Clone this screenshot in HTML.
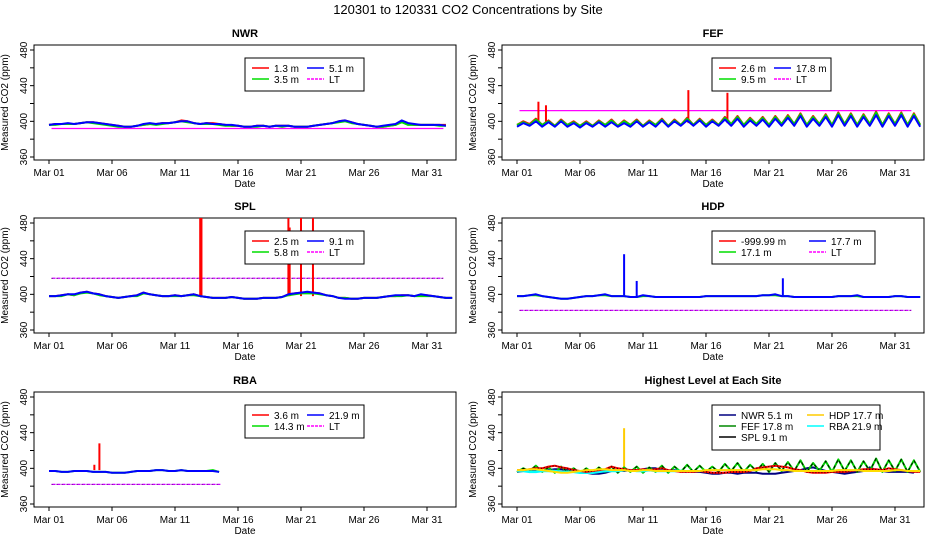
<!DOCTYPE html>
<html><head><meta charset="utf-8"><style>
body{margin:0;background:#fff}
svg{display:block;font-family:"Liberation Sans",Arial,sans-serif}
</style></head><body>
<svg id="c" width="936" height="540" viewBox="0 0 936 540">
<text x="468" y="14" text-anchor="middle" font-size="13">120301  to  120331 CO2 Concentrations by Site</text>
</svg>
<script>
// ---- data (day offset from Mar 01; half-day samples) ----
const dateTicks = ["Mar 01","Mar 06","Mar 11","Mar 16","Mar 21","Mar 26","Mar 31"];
const tickDays = [0,5,10,15,20,25,30];
const yTicks = [360,380,400,420,440,460,480];
const yLabels = [360,400,440,480];

const nwrA = [396,397,397,397,397,398,399,399,398,397,396,395,394,394,395,396,397,397,398,398,399,401,400,398,397,398,398,397,396,395,395,394,394,395,395,394,395,395,395,394,394,394,395,396,397,398,400,401,399,397,396,395,394,394,395,396,400,397,396,396,396,396,396,396];
const nwrB = [396,396,397,397,397,398,399,398,397,396,395,394,394,394,395,396,397,396,397,398,399,400,399,398,397,397,397,396,395,395,395,394,394,394,395,394,395,394,395,394,394,394,395,396,397,398,399,400,398,397,396,395,394,394,395,396,399,396,396,396,396,396,395,395];
const nwrC = [396,397,397,398,397,398,399,399,398,397,396,395,394,394,395,397,398,397,398,398,399,400,400,398,397,398,397,397,396,396,395,394,394,395,395,394,395,395,395,394,394,394,395,396,397,398,400,401,399,397,396,395,394,395,396,397,401,398,397,396,396,396,396,395];
const nwrLT = [392,392];

const fefA = [396,400,397,403,396,401,395,402,396,400,395,400,395,401,396,402,395,401,396,402,395,401,396,403,395,402,396,404,396,403,396,402,396,405,397,406,396,404,397,405,396,406,397,407,397,409,396,406,397,408,396,410,397,409,396,408,397,411,396,409,397,410,396,409,396];
const fefB = [396,399,396,402,396,400,395,401,396,399,395,399,395,400,396,401,395,400,396,401,395,400,396,402,395,401,396,403,396,402,396,401,396,404,397,405,396,403,397,404,396,405,397,406,397,408,396,405,397,407,396,409,397,408,396,407,397,410,396,408,397,409,396,408,396];
const fefC = [394,398,395,400,394,399,394,400,394,398,393,398,394,399,394,399,394,398,394,400,394,399,394,401,394,400,395,401,395,401,394,400,395,402,395,403,394,401,395,402,394,403,395,404,395,406,394,403,395,405,394,407,395,406,394,405,395,407,394,406,395,407,394,406,394];
const fefLT = [412,412];
const fefSpikeDays = [1.7,2.3,13.6,16.7];
const fefSpikeVals = [422,418,435,432];

const splA = [398,398,399,400,399,402,403,401,400,398,397,396,397,398,399,402,400,399,398,398,399,398,399,400,398,397,396,396,396,397,396,395,395,395,396,396,396,397,400,401,402,402,402,401,399,398,396,396,395,395,396,396,396,397,398,398,399,399,398,399,399,398,397,396,396];
const splB = [398,398,398,400,399,401,402,401,399,398,397,396,397,398,398,401,400,399,398,398,398,398,399,399,398,397,396,396,396,397,396,395,395,395,396,396,396,397,399,400,401,401,401,400,399,398,396,396,395,395,396,396,396,397,398,398,398,399,398,398,398,398,397,396,396];
const splC = [398,398,399,400,400,402,403,401,400,398,397,396,397,398,399,402,400,399,398,398,399,398,399,400,398,397,396,396,396,397,396,395,395,395,396,396,396,397,400,401,402,403,402,401,399,398,396,395,395,395,396,396,396,397,398,399,399,399,398,400,399,398,397,396,396];
const splLT = [418,418];
const splSpikeDays = [12.0,12.1,19.0,19.1,20.0,20.95];
const splSpikeVals = [490,490,490,475,490,490];

const hdpA = [398,398,399,399,398,397,396,395,395,396,397,398,398,399,399,398,398,398,397,397,398,398,397,397,397,397,397,397,397,397,398,398,398,398,398,398,398,398,398,399,399,399,398,398,397,397,397,397,397,397,397,398,398,398,398,397,397,397,397,397,398,398,397,397,397];
const hdpB = [398,398,399,400,398,397,396,395,395,396,397,398,398,399,400,398,398,398,397,397,399,398,397,397,397,397,397,397,397,397,398,398,398,398,398,398,398,398,398,399,399,400,398,398,397,397,397,397,397,397,397,398,398,398,399,397,397,397,397,397,398,398,397,397,397];
const hdpLT = [382,382];
const hdpSpikeDays = [8.5,21.1,9.5];
const hdpSpikeVals = [445,418,415];

const rbaA = [397,397,396,396,397,397,397,396,396,396,395,395,395,396,397,397,397,398,398,397,397,398,397,397,397,397,397,396];
const rbaB = [397,397,396,396,397,397,397,396,396,396,395,395,395,396,397,397,397,398,398,397,397,398,397,397,397,397,398,396];
const rbaLT = [382,382];
const rbaLTEnd = 13.3;
const rbaSpikeDays = [3.6,4.0];
const rbaSpikeVals = [404,428];

const panels = [
 {id:"nwr", title:"NWR", col:0,row:0, series:[{d:nwrA,c:"#ff0000"},{d:nwrB,c:"#00dd00"},{d:nwrC,c:"#0000ff"}], lt:nwrLT, ltc:"#ff00ff", ltDash:"", spikes:null,
  leg:[["1.3 m","#ff0000"],["5.1 m","#0000ff"],["3.5 m","#00dd00"],["LT","#ff00ff"]]},
 {id:"fef", title:"FEF", col:1,row:0, series:[{d:fefA,c:"#ff0000"},{d:fefB,c:"#00dd00"},{d:fefC,c:"#0000ff"}], lt:fefLT, ltc:"#ff00ff", ltDash:"", spikes:[fefSpikeDays,fefSpikeVals,"#ff0000"],
  leg:[["2.6 m","#ff0000"],["17.8 m","#0000ff"],["9.5 m","#00dd00"],["LT","#ff00ff"]]},
 {id:"spl", title:"SPL", col:0,row:1, series:[{d:splA,c:"#ff0000"},{d:splB,c:"#00dd00"},{d:splC,c:"#0000ff"}], lt:splLT, ltc:"#cc00ff", ltDash:"4,1", spikes:[splSpikeDays,splSpikeVals,"#ff0000"],
  leg:[["2.5 m","#ff0000"],["9.1 m","#0000ff"],["5.8 m","#00dd00"],["LT","#ff00ff"]]},
 {id:"hdp", title:"HDP", col:1,row:1, series:[{d:hdpA,c:"#00dd00"},{d:hdpB,c:"#0000ff"}], lt:hdpLT, ltc:"#cc00ff", ltDash:"4,1", spikes:[hdpSpikeDays,hdpSpikeVals,"#0000ff"],
  leg:[["-999.99 m","#ff0000"],["17.7 m","#0000ff"],["17.1 m","#00dd00"],["LT","#ff00ff"]]},
 {id:"rba", title:"RBA", col:0,row:2, series:[{d:rbaB,c:"#00dd00"},{d:rbaA,c:"#0000ff"}], lt:rbaLT, ltEnd:rbaLTEnd, ltc:"#cc00ff", ltDash:"4,1", spikes:[rbaSpikeDays,rbaSpikeVals,"#ff0000"],
  leg:[["3.6 m","#ff0000"],["21.9 m","#0000ff"],["14.3 m","#00dd00"],["LT","#ff00ff"]]},
 {id:"highest", title:"Highest Level at Each Site", col:1,row:2,
  series:[{d:nwrC,c:"#000080"},{d:fefA,c:"#00cc00"},{d:fefA,c:"#000000",dash:"3,3",w:1},{d:rbaA,c:"#00ffff",w:2.5},{d:splC,c:"#ff0000"},{d:splC,c:"#000000",dash:"1,2",w:1},{d:hdpA,c:"#ffdd00"}],
  lt:null, spikes:[[8.5],[445],"#ffcc00"],
  leg:[["NWR  5.1 m","#000080"],["HDP   17.7 m","#ffcc00"],["FEF  17.8 m","#008800"],["RBA  21.9 m","#00ffff"],["SPL  9.1 m","#000000"]]}
];

const NS="http://www.w3.org/2000/svg";
const svg=document.getElementById("c");
function mk(tag,attrs,parent){const e=document.createElementNS(NS,tag);for(const k in attrs)e.setAttribute(k,attrs[k]);(parent||svg).appendChild(e);return e;}

panels.forEach(p=>{
  const L = p.col? 502:34, R = p.col?924:456;
  const T = [45,218,392][p.row], B = T+115;
  const X0 = p.col?517:49;
  const xs = d=>X0 + d*12.6;
  const ys = v=>T+5 + (480-v)*107/120;
  const g = mk("g",{});
  
  
  const cp = mk("clipPath",{id:"cp"+p.id},g);
  mk("rect",{x:L,y:T,width:R-L,height:B-T},cp);
  const t = mk("text",{x:(L+R)/2,y:T-8,"text-anchor":"middle","font-size":"11","font-weight":"bold"},g);
  t.textContent=p.title;
  
  
  const box = mk("rect",{x:L,y:T,width:R-L,height:B-T,fill:"none",stroke:"#000","stroke-width":1},g);
  
  
  tickDays.forEach((d,i)=>{
    mk("line",{x1:xs(d),x2:xs(d),y1:B,y2:B+4,stroke:"#000"},g);
    const tx=mk("text",{x:xs(d),y:B+16,"text-anchor":"middle","font-size":"10"},g);
    tx.textContent=dateTicks[i];
    
    
  });
  const xl=mk("text",{x:(L+R)/2,y:B+27,"text-anchor":"middle","font-size":"10"},g);
  xl.textContent="Date";
  
  
  yTicks.forEach(v=>{
    mk("line",{x1:L-4,x2:L,y1:ys(v),y2:ys(v),stroke:"#000"},g);
  });
  yLabels.forEach(v=>{
    const ty=mk("text",{x:0,y:0,"text-anchor":"middle","font-size":"10",transform:`translate(${L-7},${ys(v)}) rotate(-90)`},g);
    ty.textContent=v;
    
    
  });
  const yl=mk("text",{x:0,y:0,"text-anchor":"middle","font-size":"10",transform:`translate(${L-26},${(T+B)/2}) rotate(-90)`},g);
  yl.textContent="Measured CO2 (ppm)";
  
  
  const pg = mk("g",{"clip-path":`url(#cp${p.id})`},g);
  if(p.lt){
    const e = p.ltEnd!==undefined? p.ltEnd : 31;
    const ln=mk("line",{x1:xs(0.2),x2:xs(e+0.3),y1:ys(p.lt[0]),y2:ys(p.lt[1]),stroke:p.ltc,"stroke-width":1.3,"stroke-dasharray":p.ltDash||"none"},pg);
    if(p.ltDash) mk("line",{x1:xs(0.2),x2:xs(e+0.3),y1:ys(p.lt[0]),y2:ys(p.lt[1]),stroke:"#000","stroke-width":0.6,"stroke-dasharray":"1,4"},pg);
    
    
  }
  if(p.spikes){
    p.spikes[0].forEach((d,i)=>{
      const s=mk("line",{x1:xs(d),x2:xs(d),y1:ys(398),y2:ys(p.spikes[1][i]),stroke:p.spikes[2],"stroke-width":2},pg);
      
      
    });
  }
  p.series.forEach((s,si)=>{
    let dstr="";
    s.d.forEach((v,i)=>{const x=xs(i*0.5),y=ys(v);dstr+=(i?`L${x.toFixed(1)},${y.toFixed(1)}`:`M${x.toFixed(1)},${y.toFixed(1)}`);});
    const path=mk("path",{d:dstr,fill:"none",stroke:s.c,"stroke-width":s.w||2,"stroke-dasharray":s.dash||"none","stroke-linejoin":"round"},pg);
    
    
  });
  const lx = p.col? 712 : 245;
  const lw = p.id==="highest"?168:(p.id==="hdp"?163:119);
  const lh = p.id==="highest"?45:33;
  const ly = T+13;
  const lg=mk("g",{},g);
  
  
  mk("rect",{x:lx,y:ly,width:lw,height:lh,fill:"#fff",stroke:"#000"},lg);
  const colW = p.id==="highest"?88:(p.id==="hdp"?90:55);
  p.leg.forEach((it,i)=>{
    const cx = lx+7+(i%2)*colW, cy = ly+10+Math.floor(i/2)*11;
    mk("line",{x1:cx,x2:cx+17,y1:cy,y2:cy,stroke:it[1],"stroke-width":1.5,"stroke-dasharray":it[0]==="LT"?"3,1":"none"},lg);
    const lt=mk("text",{x:cx+22,y:cy+4,"font-size":"10"},lg);
    lt.textContent=it[0];
    
    
  });
});
</script>
</body></html>
